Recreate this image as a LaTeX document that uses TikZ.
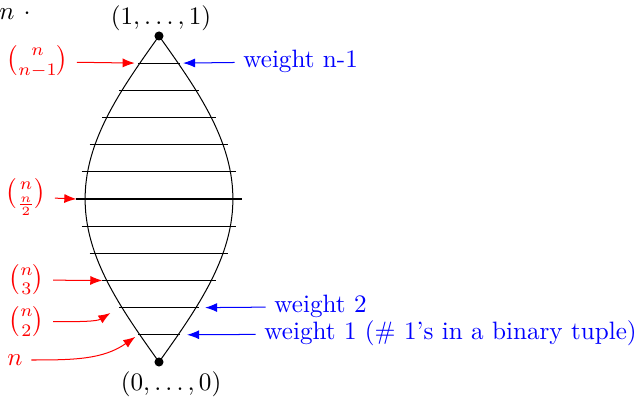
\documentclass[tikz,border=0pt]{standalone}
\usepackage{amsmath}
\usetikzlibrary{arrows.meta}
\definecolor{lensedge}{RGB}{0,0,0}
\definecolor{countred}{RGB}{255,0,0}
\definecolor{weightblue}{RGB}{0,0,255}

\begin{document}
\begin{tikzpicture}[x=0.38cm,y=0.38cm,>=Latex]
  % --- lens parameters (one unit = one weight) ---
  \def\H{6}      % half height: weights 0..n
  \def\W{2.72}   % half width of the lens at weight n/2
  \def\Lw{2.95}  % half width of the level lines
  \def\Lm{3.04}  % half width of the middle level line

  \useasboundingbox (-5.852,-7.361) rectangle (17.593,7.324);

  % cut-off text at the top left
  \node[anchor=base west,inner sep=0pt] (cut) at (-5.89,6.59)
    {$n\hspace{3.6pt}\cdot$};

  % lens outline (left and right halves)
  \draw[lensedge]
    plot[domain=-\H:\H,samples=60] ({\W*cos(\x*15)},\x);
  \draw[lensedge]
    plot[domain=-\H:\H,samples=60] ({-\W*cos(\x*15)},\x);

  % --- level lines (one per weight) ---
  \draw ({-\Lw*cos(75)},5) coordinate (L5) -- ({\Lw*cos(75)},5) coordinate (R5);
  \draw ({-\Lw*cos(60)},4) -- ({\Lw*cos(60)},4);
  \draw ({-\Lw*cos(45)},3) -- ({\Lw*cos(45)},3);
  \draw ({-\Lw*cos(30)},2) -- ({\Lw*cos(30)},2);
  \draw ({-\Lw*cos(15)},1) -- ({\Lw*cos(15)},1);
  \draw[thick] (-\Lm,0) coordinate (L0) -- (\Lm,0);
  \draw ({-\Lw*cos(15)},-1) -- ({\Lw*cos(15)},-1);
  \draw ({-\Lw*cos(30)},-2) -- ({\Lw*cos(30)},-2);
  \draw ({-\Lw*cos(45)},-3) coordinate (Lm3) -- ({\Lw*cos(45)},-3);
  \draw ({-\Lw*cos(60)},-4) coordinate (Lm4) -- ({\Lw*cos(60)},-4) coordinate (Rm4);
  \draw ({-\Lw*cos(75)},-5) coordinate (Lm5) -- ({\Lw*cos(75)},-5) coordinate (Rm5);

  % poles
  \coordinate (top) at (0,\H);
  \coordinate (bot) at (0,-\H);
  \fill (top) circle (1.8pt);
  \fill (bot) circle (1.8pt);
  \node[above,xshift=0.8pt,yshift=-1.6pt] (toplab) at (top) {$(1,\ldots,1)$};
  \node[below,xshift=4.8pt,yshift=-0.5pt] (botlab) at (bot) {$(0,\ldots,0)$};

  % --- number of tuples per level (left) ---
  \node[countred] (cnm1) at (-4.472,5.053) {$\binom{n}{n-1}$};
  \node[countred] (cnh) at (-4.895,0.074) {$\binom{n}{\frac{n}{2}}$};
  \node[countred] (cn3) at (-4.877,-2.981) {$\binom{n}{3}$};
  \node[countred] (cn2) at (-4.877,-4.516) {$\binom{n}{2}$};
  \node[countred] (cn1) at (-5.3,-5.926) {$n$};

  \draw[countred,->,shorten >=1.4pt] (cnm1) -- (L5);
  \draw[countred,->] (cnh) -- (L0);
  \draw[countred,->] (cn3) -- (Lm3);
  \draw[countred,->,shorten >=4pt] (cn2.east) to[out=0,in=212] (Lm4);
  \draw[countred,->,shorten >=1.4pt] (cn1.east) to[out=0,in=215] (Lm5);

  % --- weights (right) ---
  \node[weightblue,anchor=west] (wnm1) at (2.78,5.053) {weight n-1};
  \node[weightblue,anchor=west] (w2) at (3.923,-3.964) {weight 2};
  \node[weightblue,anchor=west] (w1) at (3.555,-4.943)
    {weight 1 (\# 1's in a binary tuple)};

  \draw[weightblue,->,shorten >=1.3pt] (wnm1) -- (R5);
  \draw[weightblue,->,shorten >=2.4pt] (w2) -- (Rm4);
  \draw[weightblue,->,shorten >=2.9pt] (w1) -- (Rm5);

\end{tikzpicture}
\end{document}
